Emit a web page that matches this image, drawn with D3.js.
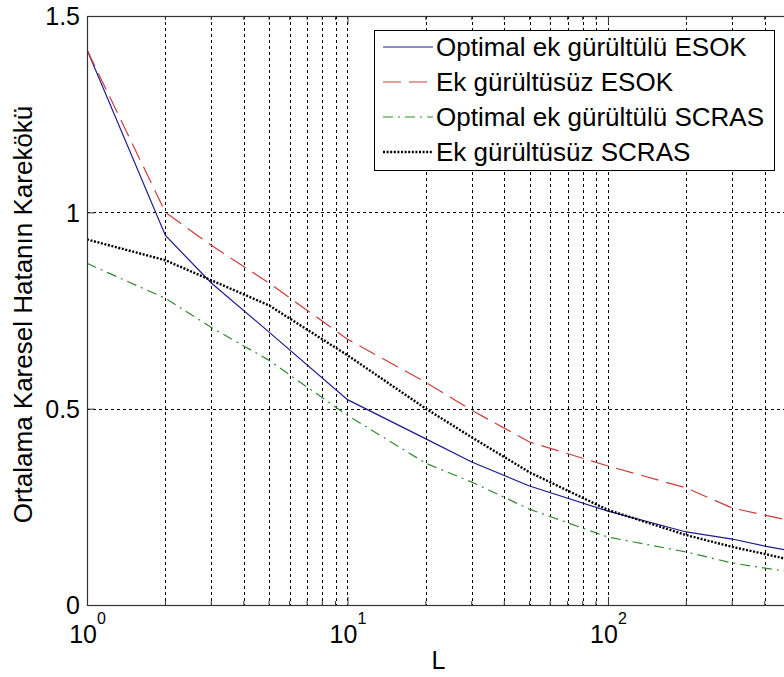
<!DOCTYPE html>
<html>
<head>
<meta charset="utf-8">
<script src="https://cdn.jsdelivr.net/npm/d3@7"></script>
<style>
  html, body { margin: 0; padding: 0; background: #fff; }
  svg { display: block; font-family: "Liberation Sans", Arial, sans-serif; }
</style>
</head>
<body>
<svg id="chart" width="784" height="677"></svg>
<script>
// ---- data ----
const L = [1, 2, 3, 5, 10, 20, 30, 50, 100, 200, 300, 400, 500];
const esokOptimal   = [1.414, 0.941, 0.820, 0.695, 0.523, 0.423, 0.364, 0.303, 0.239, 0.186, 0.168, 0.150, 0.138];
const esokNoNoise   = [1.414, 1.000, 0.916, 0.820, 0.677, 0.567, 0.496, 0.415, 0.354, 0.298, 0.247, 0.229, 0.215];
const scrasOptimal  = [0.870, 0.781, 0.707, 0.623, 0.483, 0.361, 0.313, 0.244, 0.173, 0.135, 0.107, 0.094, 0.085];
const scrasNoNoise  = [0.931, 0.878, 0.827, 0.763, 0.636, 0.500, 0.427, 0.338, 0.242, 0.178, 0.148, 0.130, 0.115];
const seriesNames = ["Optimal ek gürültülü ESOK", "Ek gürültüsüz ESOK", "Optimal ek gürültülü SCRAS", "Ek gürültüsüz SCRAS"];
const yTicks = [0, 0.5, 1, 1.5];
const yTickLabels = ["0", "0.5", "1", "1.5"];
const xMajorTicks = [1, 10, 100];
const xTickExponents = ["0", "1", "2"];
const xLabel = "L";
const yLabel = "Ortalama Karesel Hatanın Karekökü";

// ---- layout ----
const pLeft = 87, pRight = 790, pTop = 16, pBottom = 605;
const svg = d3.select("#chart");
svg.append("rect").attr("width", 784).attr("height", 677).attr("fill", "#fff");

const x = d3.scaleLog().domain([1, 500]).range([pLeft, pRight]);
const y = d3.scaleLinear().domain([0, 1.5]).range([pBottom, pTop]);

const minorTicks = [];
for (let dec = 1; dec <= 100; dec *= 10) {
  for (let k = 1; k <= 9; k++) {
    const v = k * dec;
    if (v <= 500) minorTicks.push(v);
  }
}

svg.append("defs").append("clipPath").attr("id", "plotclip")
  .append("rect").attr("x", pLeft).attr("y", pTop).attr("width", pRight - pLeft).attr("height", pBottom - pTop);

// grid
const grid = svg.append("g").attr("stroke", "#000").attr("stroke-width", 1).attr("stroke-dasharray", "3,3");
grid.selectAll("line.vg").data(minorTicks.filter(v => v > 1 && v < 500)).join("line")
  .attr("x1", d => Math.round(x(d)) + 0.5).attr("x2", d => Math.round(x(d)) + 0.5)
  .attr("y1", pTop).attr("y2", pBottom);
grid.selectAll("line.hg").data(yTicks.filter(v => v > 0 && v < 1.5)).join("line")
  .attr("x1", pLeft).attr("x2", pRight)
  .attr("y1", d => Math.round(y(d)) + 0.5).attr("y2", d => Math.round(y(d)) + 0.5);

// series
const series = [
  { name: seriesNames[0], values: esokOptimal,  color: "#1c1c8f", width: 1.2, dash: null },
  { name: seriesNames[1], values: esokNoNoise,  color: "#d03a3a", width: 1.2, dash: "18,8" },
  { name: seriesNames[2], values: scrasOptimal, color: "#2f8a2f", width: 1.2, dash: "10,5,2,5" },
  { name: seriesNames[3], values: scrasNoNoise, color: "#000000", width: 2.4, dash: "2,1.6" }
];
const line = d3.line().x(d => x(d[0])).y(d => y(d[1]));
const plot = svg.append("g").attr("clip-path", "url(#plotclip)");
series.forEach(s => {
  plot.append("path")
    .datum(L.map((l, i) => [l, s.values[i]]))
    .attr("d", line)
    .attr("fill", "none")
    .attr("stroke", s.color)
    .attr("stroke-width", s.width)
    .attr("stroke-dasharray", s.dash);
});

// axes
const axisColor = "#333";
const xAxis = d3.axisBottom(x).tickValues(xMajorTicks).tickSize(-8).tickFormat(() => "");
const gx = svg.append("g").attr("transform", `translate(0,${pBottom})`).call(xAxis);
gx.select(".domain").remove();
gx.selectAll(".tick line").attr("stroke", axisColor);
gx.selectAll(".tick").each(function(d, i) {
  const t = d3.select(this).append("text")
    .attr("y", 38).attr("fill", "#000").attr("text-anchor", "middle")
    .style("font-size", "25px");
  t.append("tspan").text("10");
  t.append("tspan").attr("dy", -19).style("font-size", "16px").text(xTickExponents[i]);
});
const minorTickG = svg.append("g").attr("stroke", axisColor);
minorTickG.selectAll("line.mb").data(minorTicks.filter(v => !xMajorTicks.includes(v))).join("line")
  .attr("x1", d => x(d)).attr("x2", d => x(d)).attr("y1", pBottom).attr("y2", pBottom - 4);
minorTickG.selectAll("line.mt").data(minorTicks.filter(v => !xMajorTicks.includes(v))).join("line")
  .attr("x1", d => x(d)).attr("x2", d => x(d)).attr("y1", pTop).attr("y2", pTop + 4);
const xAxisTop = d3.axisTop(x).tickValues(xMajorTicks).tickSize(-8).tickFormat(() => "");
const gxt = svg.append("g").attr("transform", `translate(0,${pTop})`).call(xAxisTop);
gxt.select(".domain").remove();
gxt.selectAll(".tick line").attr("stroke", axisColor);

const yAxis = d3.axisLeft(y).tickValues(yTicks).tickSize(-8).tickPadding(7)
  .tickFormat((d, i) => yTickLabels[i]);
const gy = svg.append("g").attr("transform", `translate(${pLeft},0)`).call(yAxis);
gy.select(".domain").remove();
gy.selectAll(".tick line").attr("stroke", axisColor);
gy.selectAll(".tick text").attr("fill", "#000").style("font-size", "25px").attr("dy", "0.35em");

// box
svg.append("rect").attr("x", pLeft + 0.5).attr("y", pTop + 0.5)
  .attr("width", pRight - pLeft).attr("height", pBottom - pTop)
  .attr("fill", "none").attr("stroke", axisColor).attr("stroke-width", 1.2);

// labels
svg.append("text").attr("x", (pLeft + pRight) / 2).attr("y", 669)
  .attr("text-anchor", "middle").style("font-size", "25px").text(xLabel);
svg.append("text")
  .attr("transform", `translate(32,${(pTop + pBottom) / 2 + 4}) rotate(-90)`)
  .attr("text-anchor", "middle").style("font-size", "26px").text(yLabel);

// legend
const lg = svg.append("g");
lg.append("rect").attr("x", 374.5).attr("y", 30.5).attr("width", 400).attr("height", 140)
  .attr("fill", "#fff").attr("stroke", "#000").attr("stroke-width", 1);
series.forEach((s, i) => {
  const cy = 47 + i * 35;
  lg.append("line").attr("x1", 383).attr("x2", 433).attr("y1", cy).attr("y2", cy)
    .attr("stroke", s.color).attr("stroke-width", s.width).attr("stroke-dasharray", s.dash);
  lg.append("text").attr("x", 436).attr("y", cy).attr("dy", "0.35em")
    .style("font-size", "26px").text(s.name);
});
</script>
</body>
</html>
